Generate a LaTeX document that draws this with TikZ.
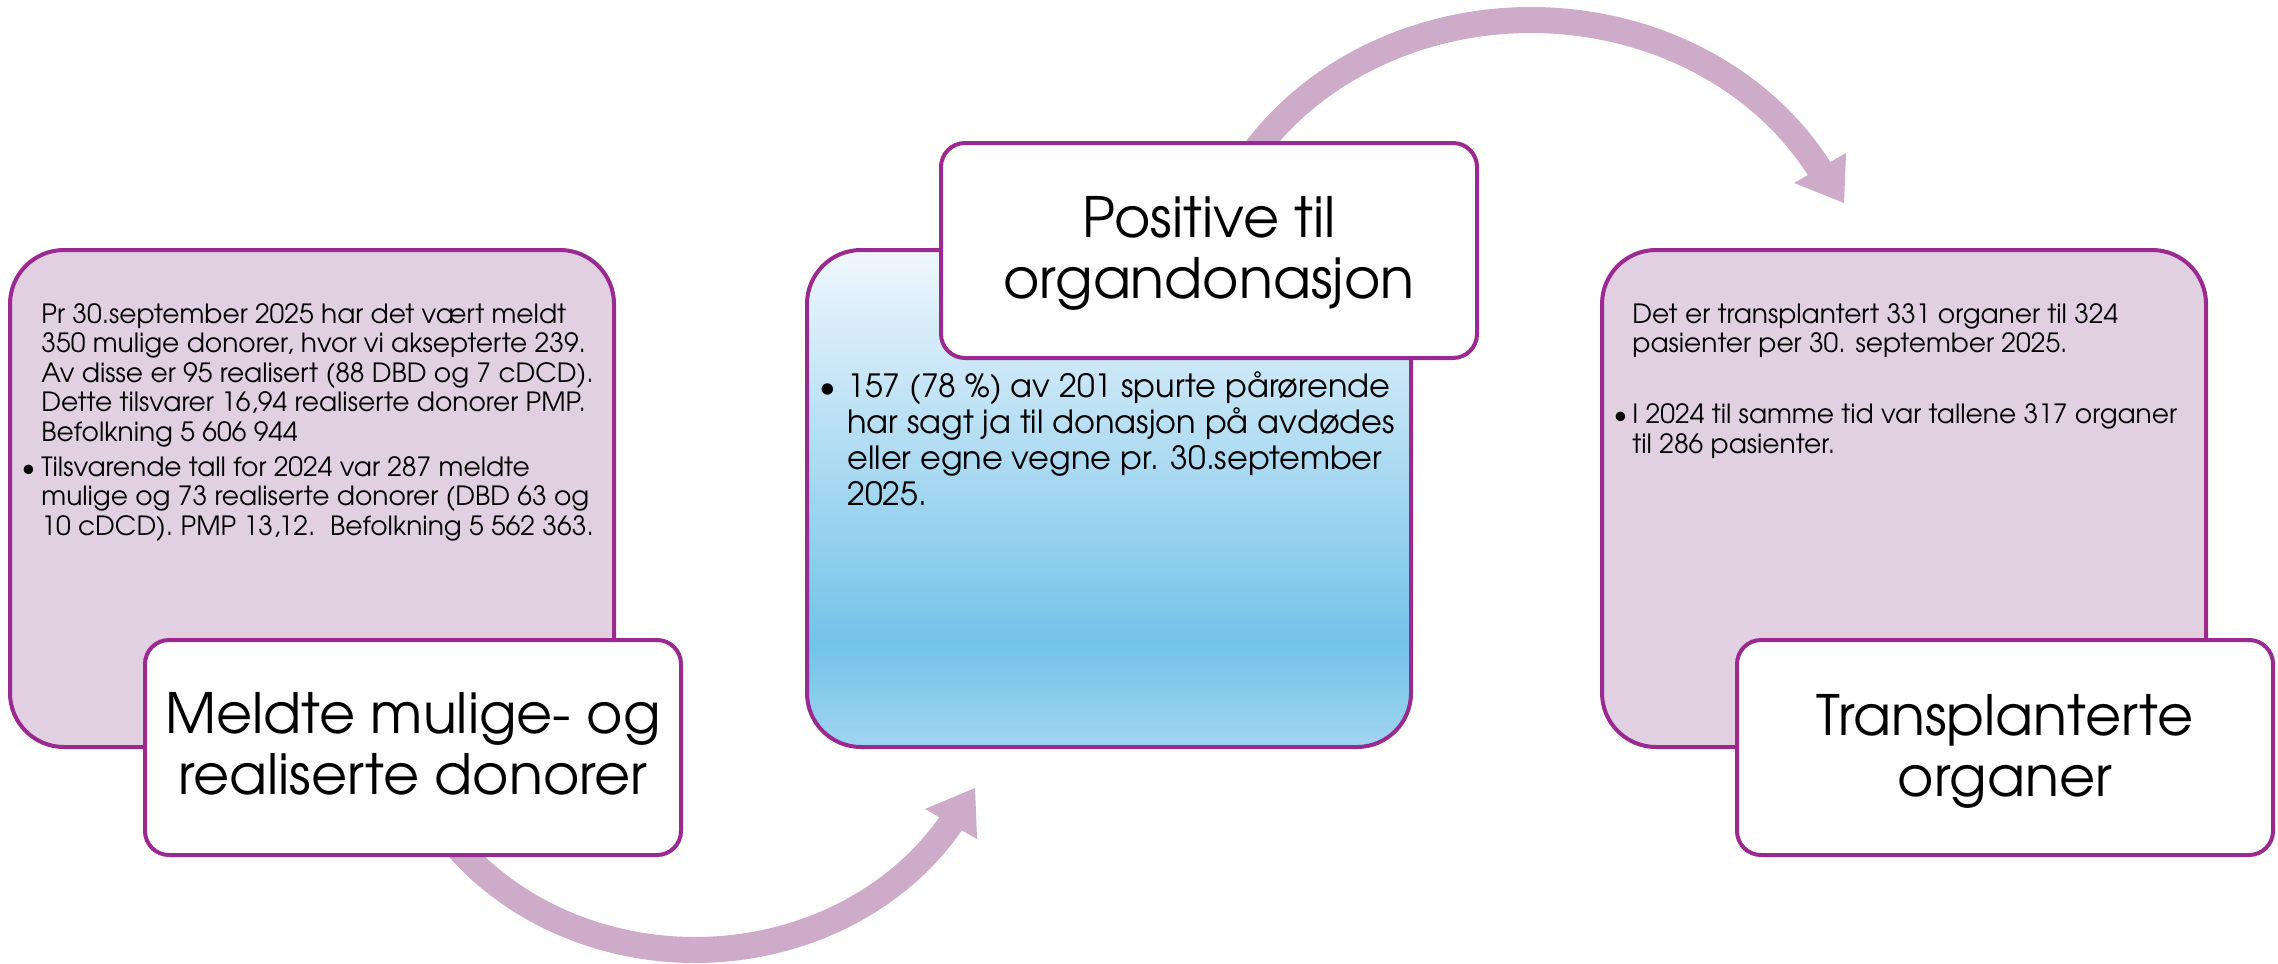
\documentclass[tikz,border=0pt]{standalone}
\usepackage{fontspec}
\setmainfont{texgyreadventor-regular.otf}
\definecolor{boxborder}{RGB}{155,42,144}
\definecolor{boxfill}{RGB}{225,208,225}
\definecolor{arrowcol}{RGB}{206,171,200}
\definecolor{bluetop}{RGB}{240,247,253}
\definecolor{bluemid}{RGB}{115,194,232}
\definecolor{bluebot}{RGB}{160,213,240}
\pgfdeclareverticalshading{blueshade}{100bp}{color(0bp)=(bluebot); color(25bp)=(bluebot); color(35.5bp)=(bluemid); color(75bp)=(bluetop); color(100bp)=(bluetop)}
\newcommand\bodyfont{\fontsize{13.25pt}{14.75pt}\selectfont}
\newcommand\midfont{\fontsize{16pt}{18pt}\selectfont}
\newcommand\titlefont{\fontsize{27.8pt}{30.5pt}\selectfont}
\newcommand\hangbullet[1]{\leavevmode\llap{•\hspace{#1}}}
\begin{document}
\begin{tikzpicture}[x=0.5pt,y=-0.5pt,
  bigbox/.style={draw=boxborder, line width=2pt, rounded corners=27pt, minimum width=302pt, minimum height=248.5pt, inner sep=0pt},
  purplebox/.style={bigbox, fill=boxfill},
  bluebox/.style={bigbox, shade, shading=blueshade},
  titlebox/.style={draw=boxborder, line width=2pt, rounded corners=12pt, fill=white, minimum width=268pt, minimum height=107.5pt, inner sep=0pt},
  band/.style={draw=arrowcol, line width=13pt},
  head/.style={fill=arrowcol},
  bodytext/.style={anchor=base west, inner sep=0pt},
  titletext/.style={anchor=base, inner sep=0pt}]
\useasboundingbox (0,0) rectangle (2278,963);

% curved arrows (behind boxes)
\draw[band] plot[domain=30:143, samples=80, smooth, variable=\t] ({695+300*cos(\t)},{685+265*sin(\t)});
\coordinate (h1tip) at (975,788);
\coordinate (h1a) at (925,809);
\coordinate (h1b) at (977,839);
\fill[head] (h1tip) -- (h1a) -- (h1b) -- cycle;

\draw[band] plot[domain=-150:-28.5, samples=80, smooth, variable=\t] ({1531+330*cos(\t)},{310+290*sin(\t)});
\coordinate (h2tip) at (1844,203);
\coordinate (h2a) at (1794,183);
\coordinate (h2b) at (1846,153);
\fill[head] (h2tip) -- (h2a) -- (h2b) -- cycle;

% big boxes
\node[purplebox] (lbox) at (312,498.5) {};
\node[bluebox] (mbox) at (1109,498.5) {};
\node[purplebox] (rbox) at (1904,498.5) {};

% title boxes
\node[titlebox] (ltitle) at (413,747.5) {};
\node[titlebox] (mtitle) at (1209,250.5) {};
\node[titlebox] (rtitle) at (2005,747.5) {};

% titles
\node[titletext] (ltitletext) at (413,733) {\titlefont\parbox[t]{300pt}{\centering Meldte mulige- og\\realiserte donorer}};
\node[titletext] (mtitletext) at (1209,237) {\titlefont\parbox[t]{300pt}{\centering Positive til\\organdonasjon}};
\node[titletext] (rtitletext) at (2005,735) {\titlefont\parbox[t]{300pt}{\centering Transplanterte\\organer}};

% body texts
\node[bodytext] (ltext) at (41,323) {\bodyfont\parbox[t]{300pt}{\raggedright
Pr 30.september 2025 har det vært meldt\\
350 mulige donorer, hvor vi aksepterte 239.\\
Av disse er 95 realisert (88 DBD og 7 cDCD).\\
Dette tilsvarer 16,94 realiserte donorer PMP.\\
Befolkning 5 606 944\\[2.75pt]
\hangbullet{3pt}Tilsvarende tall for 2024 var 287 meldte\\
mulige og 73 realiserte donorer (DBD 63 og\\
10 cDCD). PMP 13,12.\ \ Befolkning 5 562 363.}};

\node[bodytext] (mtext) at (847,397) {\midfont\parbox[t]{300pt}{\raggedright
\hangbullet{5.5pt}157 (78 \%) av 201 spurte pårørende\\
har sagt ja til donasjon på avdødes\\
eller egne vegne pr. 30.september\\
2025.}};

\node[bodytext] (rtext) at (1632,323) {\bodyfont\parbox[t]{300pt}{\raggedright
Det er transplantert 331 organer til 324\\
pasienter per 30. september 2025.\\[20.75pt]
\hangbullet{2.5pt}I 2024 til samme tid var tallene 317 organer\\
til 286 pasienter.}};
\end{tikzpicture}
\end{document}
